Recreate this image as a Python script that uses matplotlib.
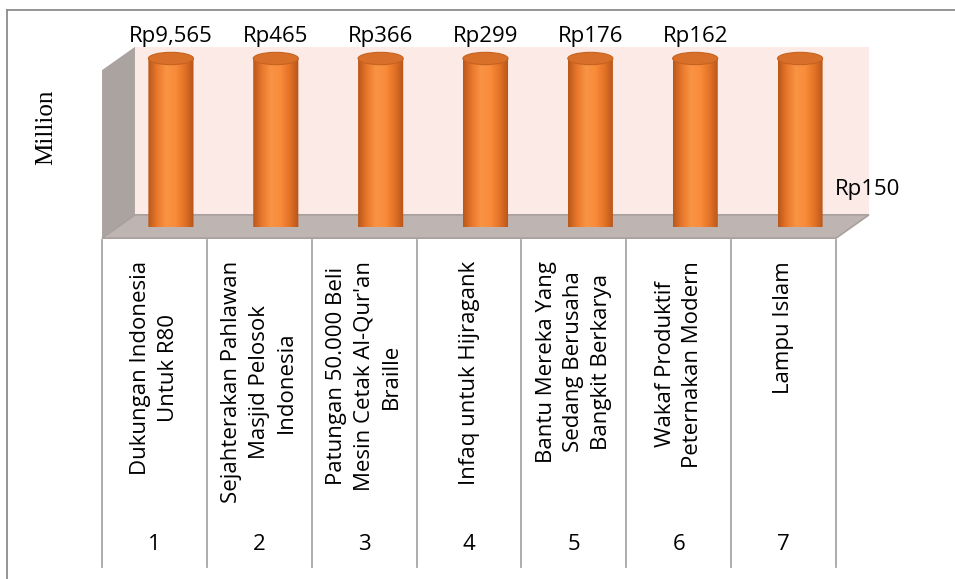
import numpy as np
import matplotlib
matplotlib.use("Agg")
import matplotlib.pyplot as plt
from matplotlib.patches import Polygon, Ellipse, Rectangle
from matplotlib.colors import LinearSegmentedColormap
import matplotlib.transforms as mtransforms
from matplotlib.lines import Line2D

# --- DATA ---
ranks = ["1", "2", "3", "4", "5", "6", "7"]
programs = [
    "Dukungan Indonesia\nUntuk R80",
    "Sejahterakan Pahlawan\nMasjid Pelosok\nIndonesia",
    "Patungan 50.000 Beli\nMesin Cetak Al-Qur'an\nBraille",
    "Infaq untuk Hijragank",
    "Bantu Mereka Yang\nSedang Berusaha\nBangkit Berkarya",
    "Wakaf Produktif\nPeternakan Modern",
    "Lampu Islam",
]
donations = [9565, 465, 366, 299, 176, 162, 150]  # million Rp
value_labels = ["Rp9,565", "Rp465", "Rp366", "Rp299", "Rp176", "Rp162", "Rp150"]

YMAX = 150  # axis maximum, taller bars are clipped

# --- STYLE ---
FONT = "Open Sans"
FS = 16
W, H = 955, 579
DX, DY = 0.157, 10.4  # half-depth of the 3D box in data units

fig = plt.figure(figsize=(W / 100, H / 100), dpi=100)
fig.patch.set_facecolor("white")

# axes spans the mid-depth plane of the 3D box
left_px, right_px = 118.5, 852.5
bot_px, top_px = 226.5, 58.5
ax = fig.add_axes([left_px / W, 1 - bot_px / H, (right_px - left_px) / W, (bot_px - top_px) / H])
ax.set_xlim(0.5, len(ranks) + 0.5)
ax.set_ylim(0, YMAX)
ax.axis("off")

x0, x1 = 0.5, len(ranks) + 0.5

# back wall
ax.add_patch(Rectangle((x0 + DX, DY), x1 - x0, YMAX, facecolor="#FBEAE6",
                       edgecolor="none", clip_on=False, zorder=1))
# side wall
ax.add_patch(Polygon([(x0 - DX, -DY), (x0 + DX, DY), (x0 + DX, YMAX + DY), (x0 - DX, YMAX - DY)],
                     closed=True, facecolor="#ABA3A0", edgecolor="none", clip_on=False, zorder=1))
# floor
ax.add_patch(Polygon([(x0 - DX, -DY), (x1 - DX, -DY), (x1 + DX, DY), (x0 + DX, DY)],
                     closed=True, facecolor="#BEB5B2", edgecolor="#A9A09D", lw=1.2,
                     clip_on=False, zorder=2))

# cylinders
cmap = LinearSegmentedColormap.from_list(
    "cyl", ["#B8561A", "#E9792C", "#FA9445", "#F98B3A", "#E27226", "#B4531A"])
grad = np.linspace(0, 1, 256).reshape(1, -1)
bw = 0.43
eh = 11
xs = np.arange(1, len(ranks) + 1)
for x, v in zip(xs, donations):
    h = min(v, YMAX)
    l, r = x - bw / 2, x + bw / 2
    t = np.linspace(np.pi, 2 * np.pi, 40)
    bottom = [(x + bw / 2 * np.cos(a), eh / 2 * np.sin(a)) for a in t]
    verts = [(l, h)] + bottom + [(r, h), (l, h)]
    im = ax.imshow(grad, extent=[l, r, -eh, h], aspect="auto", cmap=cmap, zorder=3)
    patch = Polygon(verts, closed=True, transform=ax.transData, facecolor="none", edgecolor="none")
    ax.add_patch(patch)
    im.set_clip_path(patch)
    ax.add_patch(Ellipse((x, h), bw, eh, facecolor="#D9702A", edgecolor="#C5621F",
                         lw=0.8, zorder=4, clip_on=False))

ax.set_xlim(0.5, len(ranks) + 0.5)
ax.set_ylim(0, YMAX)

# value labels
for i, (x, v, lab) in enumerate(zip(xs, donations, value_labels)):
    if i < len(xs) - 1:
        ax.text(x, YMAX + 20, lab, ha="center", va="center", fontsize=FS,
                family=FONT, clip_on=False)
    else:
        ax.text(x1 - 0.17, 33, lab, ha="left", va="center", fontsize=FS,
                family=FONT, clip_on=False)

# axis title
fig.text(46 / W, 1 - 127 / H, "Million", rotation=90, ha="center", va="center",
         fontsize=18, family="Liberation Serif")

# category table below the floor
trans = mtransforms.blended_transform_factory(ax.transData, fig.transFigure)
for k in range(len(ranks) + 1):
    xl = x0 - DX + k
    fig.add_artist(Line2D([xl, xl], [1 - 240 / H, 1 - 567 / H], transform=trans,
                          color="#A6A6A6", lw=1.3))
for x, prog, rk in zip(xs, programs, ranks):
    fig.text(x - DX, 1 - 261 / H, prog, transform=trans, rotation=90, ha="center",
             va="top", multialignment="center", fontsize=FS, family=FONT,
             linespacing=1.4)
    fig.text(x - DX, 1 - 545 / H, rk, transform=trans, ha="center", va="center",
             fontsize=FS, family=FONT)

# outer frame
fig.add_artist(Line2D([7 / W, 7 / W], [0, 1 - 10 / H], transform=fig.transFigure,
                      color="#8C8C8C", lw=1.3))
fig.add_artist(Line2D([7 / W, 1], [1 - 10 / H, 1 - 10 / H], transform=fig.transFigure,
                      color="#8C8C8C", lw=1.3))

fig.savefig("out.png", dpi=100)
